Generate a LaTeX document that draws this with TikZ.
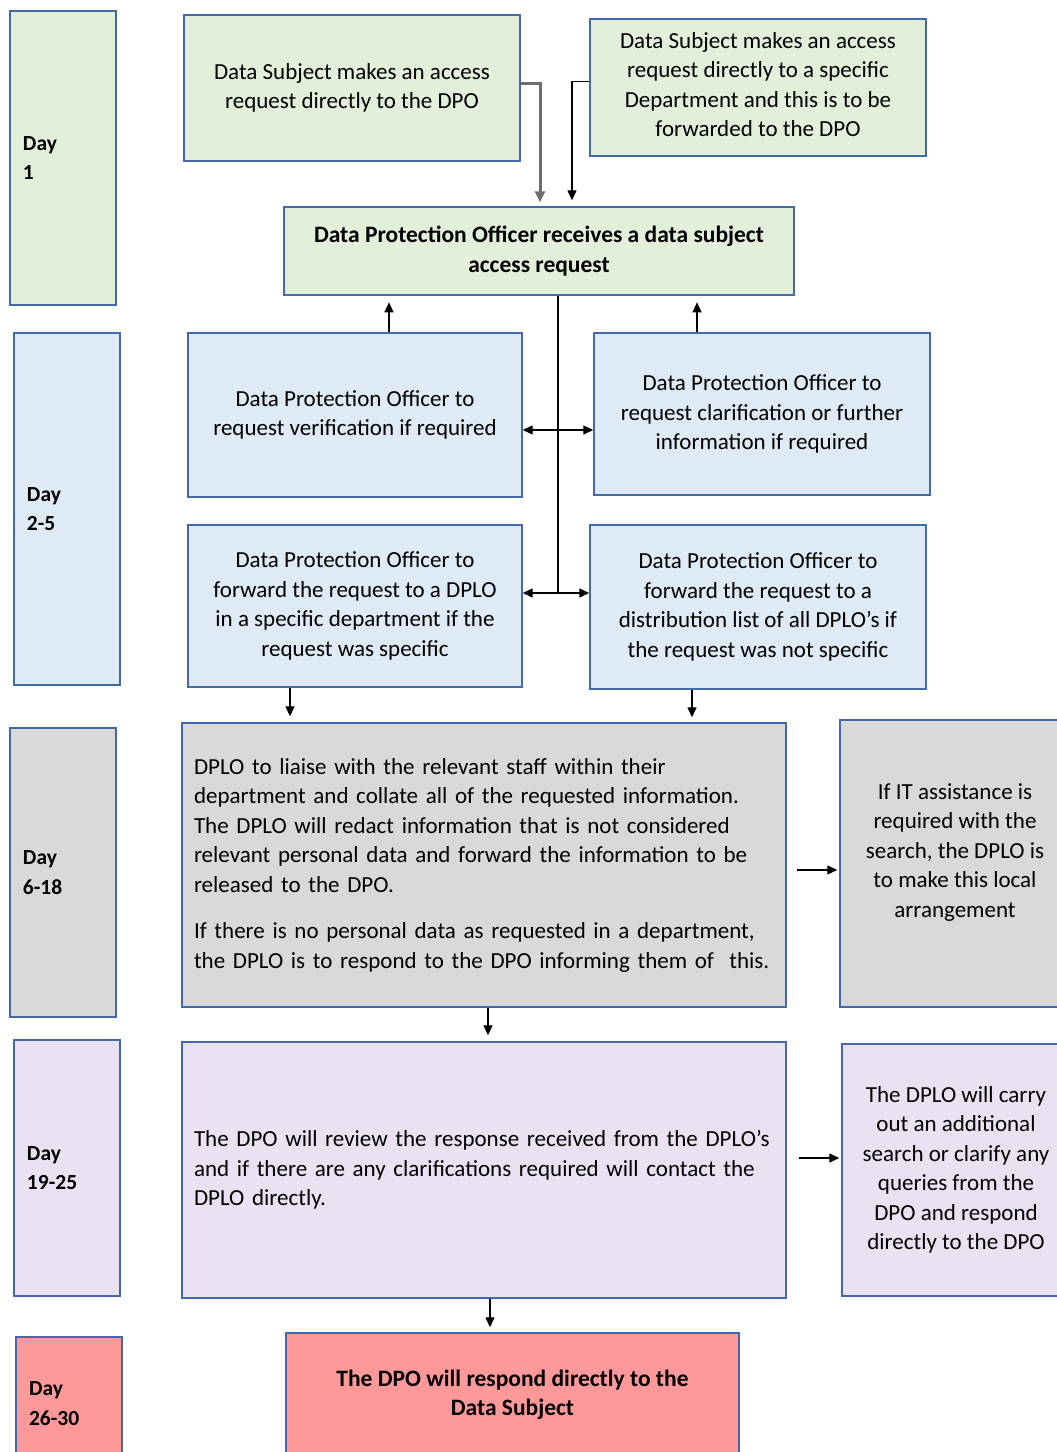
\documentclass[tikz,border=0pt]{standalone}
\usepackage{fontspec}
\setmainfont{Carlito}
\usetikzlibrary{arrows.meta,positioning}

\definecolor{edgeblue}{RGB}{68,105,170}
\definecolor{fillgreen}{RGB}{226,239,218}
\definecolor{fillblue}{RGB}{222,234,246}
\definecolor{fillgrey}{RGB}{217,217,217}
\definecolor{filllilac}{RGB}{234,225,243}
\definecolor{fillpink}{RGB}{255,153,153}
\definecolor{greyarrow}{RGB}{110,110,110}

\tikzset{
  box/.style={draw=edgeblue, line width=1.4pt, align=center, inner sep=0pt,
    font=\fontsize{23}{29.5}\selectfont},
  boldbox/.style={box, font=\bfseries\fontsize{23.5}{29.5}\selectfont},
  daybox/.style={box, align=left, text width=80pt, inner xsep=13pt,
    minimum width=106pt, font=\bfseries\fontsize{21.5}{29.5}\selectfont},
  textbox/.style={box, align=left, text width=580pt, inner xsep=12pt},
  arr/.style={-{Triangle[length=10pt,width=9pt]}, line width=1.3pt},
  twoarr/.style={{Triangle[length=10pt,width=9pt]}-{Triangle[length=10pt,width=9pt]}, line width=1.3pt},
}

\begin{document}
\begin{tikzpicture}[x=1pt,y=-1pt]
\useasboundingbox (0,0) rectangle (1057,1452);

% day column
\node[daybox, fill=fillgreen, minimum height=294pt] (day1) at (63,158) {Day\\1};
\node[daybox, fill=fillblue, minimum height=352pt] (day2) at (67,509) {Day\\2-5};
\node[daybox, fill=fillgrey, minimum height=289pt] (day3) at (63,872.5) {Day\\6-18};
\node[daybox, fill=filllilac, minimum height=256pt] (day4) at (67,1168) {Day\\19-25};
\node[daybox, fill=fillpink, minimum height=133pt] (day5) at (69,1403.5) {Day\\26-30};

% day 1
\node[box, fill=fillgreen, minimum width=336pt, minimum height=146pt] (reqdpo) at (352,88)
  {Data Subject makes an access\\request directly to the DPO};
\node[box, fill=fillgreen, minimum width=336pt, minimum height=137pt] (reqdept) at (758,87.5)
  {Data Subject makes an access\\request directly to a specific\\Department and this is to be\\forwarded to the DPO\\[-24pt]};
\node[boldbox, fill=fillgreen, minimum width=510pt, minimum height=88pt] (dpo) at (539,251)
  {Data Protection Officer receives a data subject\\access request};

% day 2-5
\node[box, fill=fillblue, minimum width=334pt, minimum height=164pt] (verify) at (355,415)
  {Data Protection Officer to\\request verification if required};
\node[box, fill=fillblue, minimum width=336pt, minimum height=162pt] (clarify) at (762,414)
  {Data Protection Officer to\\request clarification or further\\information if required};
\node[box, fill=fillblue, minimum width=334pt, minimum height=162pt] (fwdspec) at (355,606)
  {Data Protection Officer to\\forward the request to a DPLO\\in a specific department if the\\request was specific};
\node[box, fill=fillblue, minimum width=336pt, minimum height=164pt] (fwdlist) at (758,607)
  {Data Protection Officer to\\forward the request to a\\distribution list of all DPLO's if\\the request was not specific};

% day 6-18
\node[textbox, fill=fillgrey, minimum height=284pt] (dplo) at (484,865)
  {DPLO to liaise with the relevant staff within their\\
   department and collate all of the requested information.\\
   The DPLO will redact information that is not considered\\
   relevant personal data and forward the information to be\\
   released to the DPO.\\[17pt]
   If there is no personal data as requested in a department,\\
   the DPLO is to respond to the DPO informing them of~ this.};
\node[box, fill=fillgrey, minimum width=230pt, minimum height=287pt] (itbox) at (955,863.5)
  {If IT assistance is\\required with the\\search, the DPLO is\\to make this local\\arrangement\\[-3pt]};

% day 19-25
\node[textbox, fill=filllilac, minimum height=256pt] (review) at (484,1170)
  {The DPO will review the response received from the DPLO's\\
   and if there are any clarifications required will contact the\\
   DPLO directly.\\[28pt]};
\node[box, fill=filllilac, minimum width=228pt, minimum height=252pt] (carry) at (956,1170)
  {The DPLO will carry\\out an additional\\search or clarify any\\queries from the\\DPO and respond\\directly to the DPO};

% day 26-30
\node[boldbox, fill=fillpink, minimum width=453pt, minimum height=139pt] (final) at (512.5,1402.5)
  {The DPO will respond directly to the\\Data Subject\\[-10pt]};

% connectors
\coordinate (jv) at (558,430);
\coordinate (jf) at (558,593);
\draw[-{Triangle[length=11pt,width=10pt]}, greyarrow, line width=3pt] ([yshift=5pt]reqdpo.east) -| ([xshift=1pt,yshift=4pt]dpo.north);
\draw[arr] ([yshift=6pt]reqdept.west) -| ([xshift=33pt,yshift=6pt]dpo.north);
\draw[arr] ([xshift=34pt]verify.north) -- ++(0,-30);
\draw[arr] ([xshift=-65pt]clarify.north) -- ++(0,-30);
\draw[line width=1.3pt] (dpo.south -| jv) -- (jf);
\draw[twoarr] (verify.east |- jv) -- (clarify.west |- jv);
\draw[twoarr] (fwdspec.east |- jf) -- (fwdlist.west |- jf);
\draw[arr, shorten >=6pt] ([xshift=-65pt]fwdspec.south) -- ([xshift=-65pt]fwdspec.south |- dplo.north);
\draw[arr, shorten >=5pt] ([xshift=-66pt]fwdlist.south) -- ([xshift=-66pt]fwdlist.south |- dplo.north);
\draw[arr, shorten <=10pt, shorten >=2pt] ([yshift=-5pt]dplo.east) -- ([yshift=-5pt]dplo.east -| itbox.west);
\draw[arr, shorten >=6pt] ([xshift=4pt]dplo.south) -- ([xshift=4pt]dplo.south |- review.north);
\draw[arr, shorten <=12pt, shorten >=2pt] ([yshift=12pt]review.east) -- ([yshift=12pt]review.east -| carry.west);
\draw[arr, shorten >=5pt] ([xshift=6pt]review.south) -- ([xshift=6pt]review.south |- final.north);
\end{tikzpicture}
\end{document}
